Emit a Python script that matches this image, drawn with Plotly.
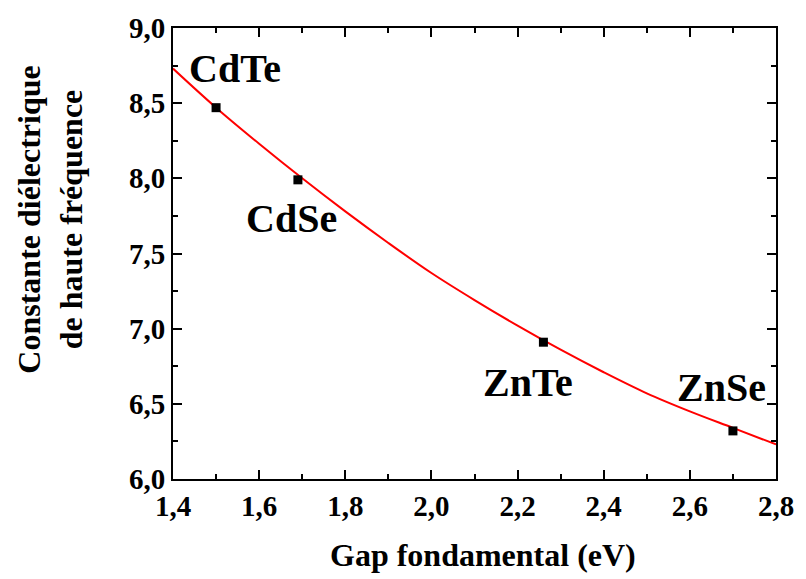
import plotly.graph_objects as go

# Measured compounds: fundamental gap (eV) vs high-frequency dielectric constant
compounds = ["CdTe", "CdSe", "ZnTe", "ZnSe"]
gap_ev = [1.50, 1.69, 2.26, 2.70]
eps_inf = [8.47, 7.99, 6.91, 6.32]

# Fitted trend curve, sampled along the gap axis
fit_gap = [1.4, 1.5, 1.6, 1.7, 1.8, 1.9, 2.0, 2.1, 2.2, 2.3, 2.4, 2.5, 2.6, 2.7, 2.8]
fit_eps = [8.73, 8.47, 8.23, 8.00, 7.78, 7.57, 7.37, 7.19, 7.02, 6.86, 6.71, 6.57, 6.45, 6.34, 6.23]

# Label anchor positions (data coordinates)
label_x = [1.545, 1.675, 2.225, 2.674]
label_y = [8.73, 7.73, 6.64, 6.61]

x_ticks = [1.4, 1.6, 1.8, 2.0, 2.2, 2.4, 2.6, 2.8]
y_ticks = [6.0, 6.5, 7.0, 7.5, 8.0, 8.5, 9.0]

FONT = "Times New Roman, Liberation Serif, serif"

fig = go.Figure()
fig.add_trace(go.Scatter(
    x=fit_gap, y=fit_eps, mode="lines",
    line=dict(color="#ff0000", width=2, shape="spline"),
    hoverinfo="skip", showlegend=False,
))
fig.add_trace(go.Scatter(
    x=gap_ev, y=eps_inf, mode="markers", text=compounds,
    marker=dict(symbol="square", size=9, color="black"),
    showlegend=False,
))

for name, lx, ly in zip(compounds, label_x, label_y):
    fig.add_annotation(
        x=lx, y=ly, text="<b>%s</b>" % name, showarrow=False,
        xanchor="center", yanchor="middle",
        font=dict(family=FONT, size=40, color="black"),
    )

# Axis titles
fig.add_annotation(
    xref="paper", yref="paper", x=0.5146, y=-0.168,
    text="<b>Gap fondamental (eV)</b>", showarrow=False,
    xanchor="center", yanchor="middle",
    font=dict(family=FONT, size=32, color="black"),
)
fig.add_annotation(
    xref="paper", yref="paper", x=-0.204, y=0.575,
    text="<b>Constante diélectrique<br>de haute fréquence</b>", showarrow=False,
    textangle=-90, xanchor="center", yanchor="middle",
    font=dict(family=FONT, size=32, color="black"),
)

axis_common = dict(
    showline=True, linecolor="black", linewidth=2, mirror="ticks",
    ticks="inside", ticklen=9, tickwidth=2, tickcolor="black",
    showgrid=False, zeroline=False, tickformat=".1f",
    tickfont=dict(family=FONT, size=29, color="black", weight="bold"),
)

fig.update_xaxes(
    range=[1.4, 2.8], tickvals=x_ticks,
    minor=dict(dtick=0.1, ticks="inside", ticklen=5, tickwidth=2, tickcolor="black"),
    **axis_common,
)
fig.update_yaxes(
    range=[6.0, 9.0], tickvals=y_ticks,
    minor=dict(dtick=0.25, ticks="inside", ticklen=5, tickwidth=2, tickcolor="black"),
    **axis_common,
)

fig.update_layout(
    width=806, height=579,
    margin=dict(l=173, r=19, t=23, b=100),
    paper_bgcolor="white", plot_bgcolor="white",
    separators=",.",
    font=dict(family=FONT, color="black"),
)

fig.write_html("out.html")
